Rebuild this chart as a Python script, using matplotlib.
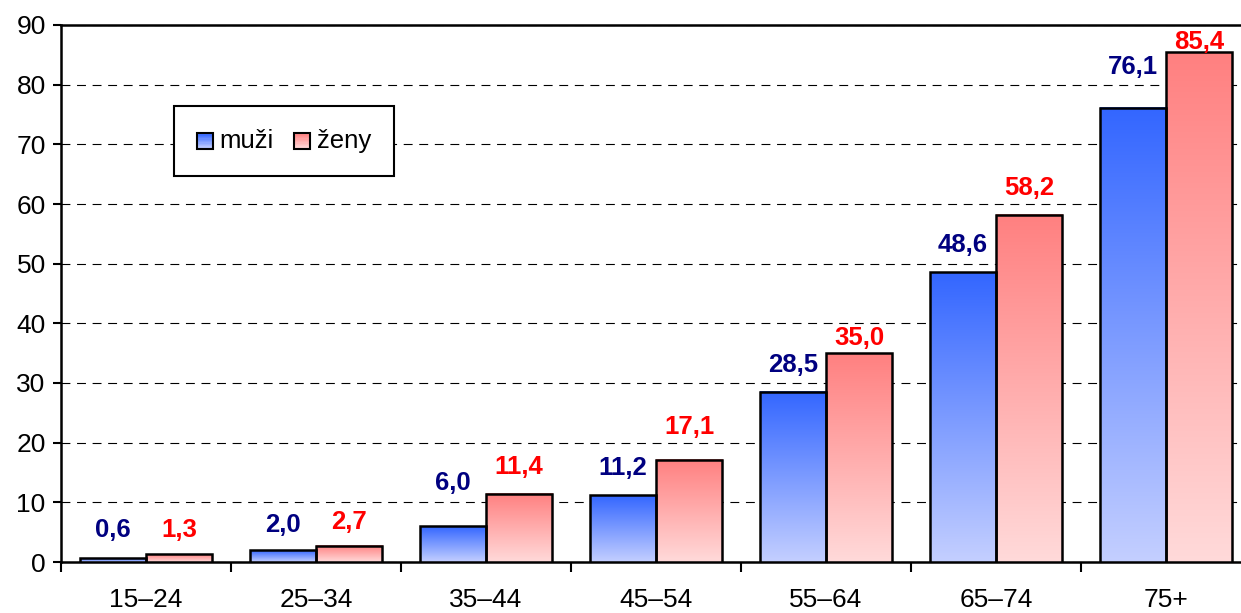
import numpy as np
import matplotlib
matplotlib.use("Agg")
import matplotlib.pyplot as plt
from matplotlib.colors import LinearSegmentedColormap
from matplotlib.patches import Rectangle
from matplotlib.legend_handler import HandlerBase

plt.rcParams["font.family"] = ["Liberation Sans", "DejaVu Sans"]

# --- datos ---
vekove_skupiny = ["15–24", "25–34", "35–44", "45–54", "55–64", "65–74", "75+"]
muzi = [0.6, 2.0, 6.0, 11.2, 28.5, 48.6, 76.1]
zeny = [1.3, 2.7, 11.4, 17.1, 35.0, 58.2, 85.4]
nazvy_serii = ["muži", "ženy"]

# posun popisku nad sloupcem (pixely), Excel je rozmistil nepravidelne
posun_muzi = [28, 25, 43, 27, 27, 27, 41]
posun_zeny = [24, 24, 27, 33, 15, 27, 10]

cmap_muzi = LinearSegmentedColormap.from_list("m", ["#C4CFFF", "#3366FF"])
cmap_zeny = LinearSegmentedColormap.from_list("z", ["#FFDADA", "#FF8080"])
barva_muzi = "#000080"
barva_zeny = "#FF0000"

fig = plt.figure(figsize=(12.41, 6.13), dpi=100)
ax = fig.add_axes([61 / 1241, 51 / 613, 1190 / 1241, 537 / 613])

x = np.arange(len(vekove_skupiny))
sirka = 0.39
grad = np.linspace(0, 1, 256).reshape(-1, 1)


def kresli(pozice, hodnoty, cmap, barva, posuny):
    bars = ax.bar(pozice, hodnoty, width=sirka, facecolor="none",
                  edgecolor="black", linewidth=1.8, zorder=4)
    for b, v, p in zip(bars, hodnoty, posuny):
        x0 = b.get_x()
        ax.imshow(grad, cmap=cmap, aspect="auto", origin="lower",
                  extent=(x0, x0 + b.get_width(), 0, v), zorder=3)
        ax.annotate(f"{v:.1f}".replace(".", ","), (b.get_x() + b.get_width() / 2, v),
                    xytext=(0, p * 0.72), textcoords="offset points",
                    ha="center", va="center", fontsize=18.5, fontweight="bold",
                    color=barva, zorder=5)


kresli(x - sirka / 2, muzi, cmap_muzi, barva_muzi, posun_muzi)
kresli(x + sirka / 2, zeny, cmap_zeny, barva_zeny, posun_zeny)

ax.set_xlim(-0.5, len(vekove_skupiny) - 0.5)
ax.set_ylim(0, 90)
ax.set_yticks(range(0, 91, 10))
ax.set_xticks(x)
ax.set_xticklabels(vekove_skupiny)
ax.set_xticks(np.arange(-0.5, len(vekove_skupiny)), minor=True)
ax.tick_params(axis="x", which="major", length=0, pad=19, labelsize=19)
ax.tick_params(axis="x", which="minor", length=7, width=1.5, direction="out")
ax.tick_params(axis="y", length=6, width=1.5, direction="out", pad=5, labelsize=19)

ax.yaxis.grid(True, color="black", linestyle=(0, (8, 6)), linewidth=0.8)
ax.set_axisbelow(True)
for s in ["left", "bottom", "top"]:
    ax.spines[s].set_linewidth(1.8)
ax.spines["right"].set_visible(False)


class GradHandler(HandlerBase):
    def __init__(self, cmap):
        super().__init__()
        self.cmap = cmap

    def create_artists(self, legend, orig, xd, yd, w, h, fontsize, trans):
        art = []
        n = 12
        s = min(w, h)
        for i in range(n):
            art.append(Rectangle((xd, yd + s * i / n), s, s / n + 0.3,
                                 facecolor=self.cmap(i / (n - 1)), edgecolor="none",
                                 transform=trans))
        art.append(Rectangle((xd, yd), s, s, facecolor="none", edgecolor="black",
                             linewidth=1.5, transform=trans))
        return art


h1 = Rectangle((0, 0), 1, 1)
h2 = Rectangle((0, 0), 1, 1)
leg = ax.legend([h1, h2], nazvy_serii, ncol=2, loc="upper left",
                bbox_to_anchor=(0.095, 0.849), borderaxespad=0,
                fontsize=18.5, frameon=True, fancybox=False, framealpha=1,
                edgecolor="black", handlelength=0.62, handleheight=0.62,
                handletextpad=0.25, columnspacing=0.8, borderpad=0.9,
                handler_map={h1: GradHandler(cmap_muzi), h2: GradHandler(cmap_zeny)})
leg.get_frame().set_linewidth(1.5)
leg.set_zorder(6)

fig.savefig("out.png", dpi=100)
